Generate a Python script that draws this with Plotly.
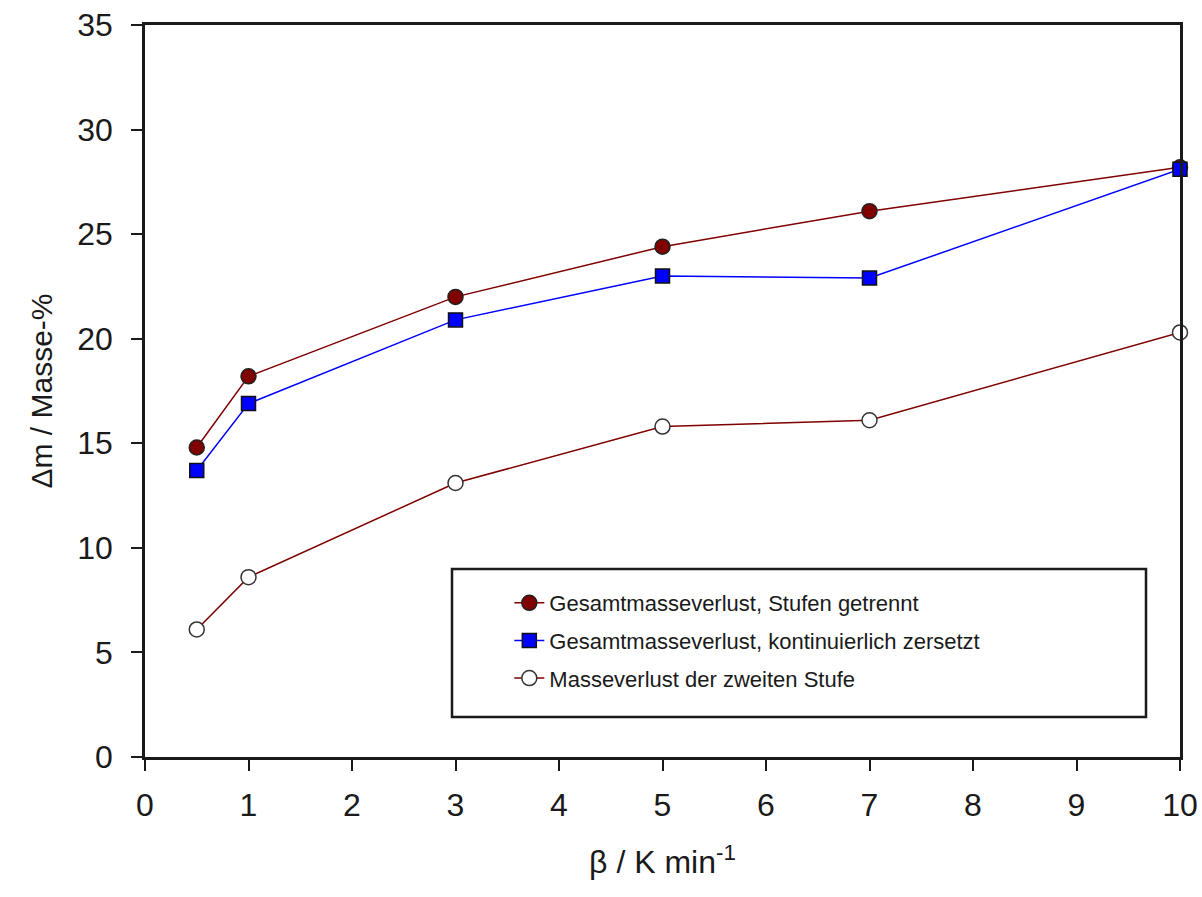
import plotly.graph_objects as go

beta = [0.5, 1, 3, 5, 7, 10]
gesamt_getrennt = [14.8, 18.2, 22.0, 24.4, 26.1, 28.2]
gesamt_kontinuierlich = [13.7, 16.9, 20.9, 23.0, 22.9, 28.1]
zweite_stufe = [6.1, 8.6, 13.1, 15.8, 16.1, 20.3]

names = ["Gesamtmasseverlust, Stufen getrennt",
         "Gesamtmasseverlust, kontinuierlich zersetzt",
         "Masseverlust der zweiten Stufe"]

FONT = "Liberation Sans, Arial, sans-serif"
DARKRED = "#7f0000"

fig = go.Figure()
fig.add_trace(go.Scatter(
    x=beta, y=gesamt_getrennt, name=names[0], mode="lines+markers",
    legendgroup="a", cliponaxis=False,
    line=dict(color=DARKRED, width=1.5),
    marker=dict(symbol="circle", size=15, color="#800000",
                line=dict(color="#222222", width=1.5))))
fig.add_trace(go.Scatter(
    x=beta, y=gesamt_kontinuierlich, name=names[1], mode="lines+markers",
    legendgroup="b", cliponaxis=False,
    line=dict(color="#0000ff", width=1.5),
    marker=dict(symbol="square", size=14, color="#0000ff",
                line=dict(color="#111111", width=1.5))))
fig.add_trace(go.Scatter(
    x=beta, y=zweite_stufe, name=names[2], mode="lines+markers",
    legendgroup="c", cliponaxis=False,
    line=dict(color=DARKRED, width=1.5),
    marker=dict(symbol="circle", size=15, color="white",
                line=dict(color="#333333", width=1.5))))

axis_common = dict(
    showgrid=False, zeroline=False, showline=True, linecolor="#1a1a1a",
    linewidth=2.5, mirror=True, ticks="outside", ticklen=11, tickwidth=2,
    tickcolor="#1a1a1a", automargin=False,
    tickfont=dict(family=FONT, size=32, color="#1a1a1a"),
)

fig.update_layout(
    width=1202, height=897,
    margin=dict(l=145, r=22, t=25, b=140),
    paper_bgcolor="white", plot_bgcolor="white",
    font=dict(family=FONT, color="#1a1a1a"),
    xaxis=dict(range=[0, 10], dtick=1, tick0=0,
               title=dict(text="β / K min<sup>-1</sup>", standoff=29,
                          font=dict(family=FONT, size=32, color="#1a1a1a")),
               ticklabelstandoff=7, **axis_common),
    yaxis=dict(range=[0, 35], dtick=5, tick0=0,
               title=dict(text="Δm / Masse-%", standoff=16,
                          font=dict(family=FONT, size=30, color="#1a1a1a")),
               ticklabelstandoff=12, **axis_common),
    showlegend=True,
    legend=dict(x=0.352, y=0.239, xanchor="left", yanchor="top",
                bgcolor="rgba(0,0,0,0)", borderwidth=0,
                tracegroupgap=6,
                font=dict(family=FONT, size=22, color="#1a1a1a")),
    shapes=[dict(type="rect", xref="paper", yref="paper",
                 x0=(452 - 145) / 1035, x1=(1146 - 145) / 1035,
                 y0=(757 - 717) / 732, y1=(757 - 569) / 732,
                 line=dict(color="#1a1a1a", width=2.5),
                 fillcolor="rgba(0,0,0,0)", layer="above")],
)

fig.write_html("out.html")
